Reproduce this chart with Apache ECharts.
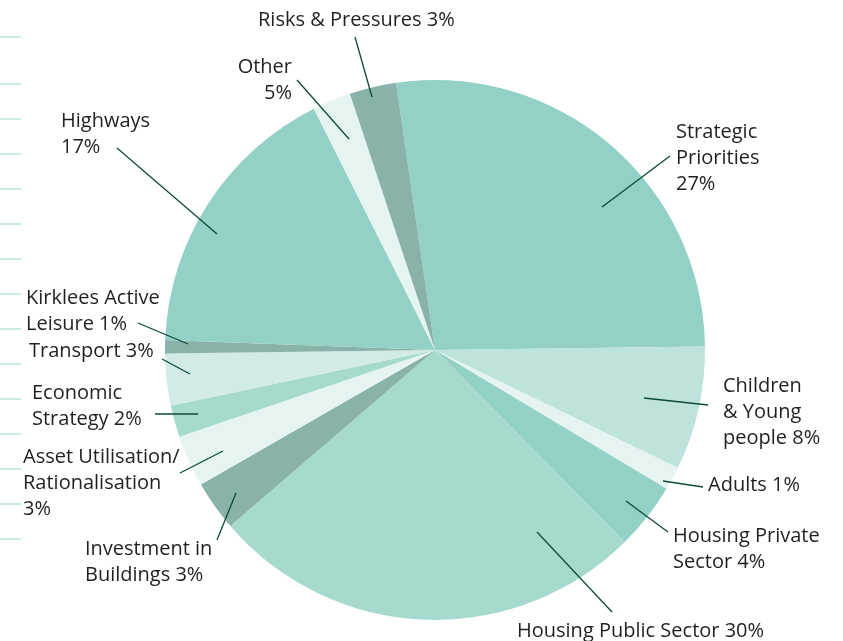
<!DOCTYPE html>
<html>
  <head>
    <meta charset="utf-8" />
    <title>Budget pie</title>
    <script src="https://cdn.jsdelivr.net/npm/echarts@6/dist/echarts.min.js"></script>
    <style>
      body { margin: 0; background: #fff; }
      #main { width: 843px; height: 641px; }
    </style>
  </head>
  <body>
    <div id="main"></div>
    <script type="text/javascript">
// slices, clockwise from the top
var names = ['Strategic Priorities', 'Children & Young people', 'Adults', 'Housing Private Sector',
  'Housing Public Sector', 'Investment in Buildings', 'Asset Utilisation/Rationalisation',
  'Economic Strategy', 'Transport', 'Kirklees Active Leisure', 'Highways', 'Other', 'Risks & Pressures'];
var values = [27.1, 7.4, 1.4, 4.0, 26.1, 3.0, 3.1, 1.9, 3.1, 0.8, 17.0, 2.3, 2.8];
var labelTexts = ['Strategic\nPriorities\n27%', 'Children\n& Young\npeople 8%', 'Adults 1%',
  'Housing Private\nSector 4%', 'Housing Public Sector 30%', 'Investment in\nBuildings 3%',
  'Asset Utilisation/\nRationalisation\n3%', 'Economic\nStrategy 2%', 'Transport 3%',
  'Kirklees Active\nLeisure 1%', 'Highways\n17%', 'Other\n5%', 'Risks & Pressures 3%'];

var colors = ['#93d1c6', '#bde3dc', '#e6f4f1', '#93d1c6', '#a6dacf', '#89b3aa', '#e6f4f1',
  '#a6dacf', '#d3ebe6', '#89b3aa', '#93d1c6', '#e6f4f1', '#89b3aa'];

// label placement: [x, y, align], and leader line [outer end, inner end]
var labelPos = [
  [676, 119, 'left'], [723, 373, 'left'], [708, 472, 'left'], [673, 523, 'left'],
  [517, 618, 'left'], [85, 536, 'left'], [23, 444, 'left'], [32, 380, 'left'],
  [29, 338, 'left'], [26, 285, 'left'], [61, 108, 'left'], [292, 54, 'right'], [258, 7, 'left']
];
var leaders = [
  [[670, 156], [602, 207]], [[708, 405], [644, 398]], [[703, 487], [663, 481]],
  [[668, 532], [626, 501]], [[612, 612], [537, 532]], [[217, 540], [236, 493]],
  [[180, 473], [223, 451]], [[155, 414], [198, 414]], [[162, 359], [190, 374]],
  [[138, 323], [188, 344]], [[117, 148], [217, 234]], [[297, 80], [349, 139]],
  [[355, 37], [372, 97]]
];

var chartDom = document.getElementById('main');
var myChart = echarts.init(chartDom);

var data = names.map(function (n, i) {
  return { name: n, value: values[i], itemStyle: { color: colors[i] } };
});
var overlayData = names.map(function (n, i) {
  return { name: n, value: values[i] };
});

// little marks down the left edge
var ticks = [];
for (var k = 0; k < 15; k++) {
  var yy = k === 0 ? 37 : 84 + (k - 1) * 35;
  ticks.push({
    type: 'line',
    shape: { x1: 0, y1: yy, x2: 21, y2: yy },
    style: { stroke: '#a9ddd6', lineWidth: 1.2 }
  });
}

var option = {
  animation: false,
  graphic: { elements: ticks },
  series: [
    {
      type: 'pie',
      center: [435, 350],
      radius: [0, 270],
      startAngle: 98.3,
      clockwise: true,
      data: data,
      label: { show: false },
      labelLine: { show: false },
      emphasis: { disabled: true },
      z: 2
    },
    {
      // same slices again, transparent, only to carry labels and leaders on top
      type: 'pie',
      center: [435, 350],
      radius: [0, 270],
      startAngle: 98.3,
      clockwise: true,
      data: overlayData,
      itemStyle: { color: 'rgba(0,0,0,0)' },
      silent: true,
      z: 5,
      label: {
        show: true,
        position: 'outside',
        overflow: 'none',
        formatter: function (p) { return labelTexts[p.dataIndex]; },
        fontFamily: 'Open Sans',
        fontSize: 20,
        lineHeight: 26,
        color: '#231f20',
        verticalAlign: 'top'
      },
      labelLine: {
        show: true,
        lineStyle: { color: '#0d4a35', width: 1.3 }
      },
      labelLayout: function (p) {
        var pos = labelPos[p.dataIndex];
        var ln = leaders[p.dataIndex];
        return {
          x: pos[0],
          y: pos[1],
          align: pos[2],
          verticalAlign: 'top',
          labelLinePoints: [ln[1], ln[0], ln[0]]
        };
      },
      emphasis: { disabled: true }
    }
  ]
};

myChart.setOption(option);
    </script>
  </body>
</html>
